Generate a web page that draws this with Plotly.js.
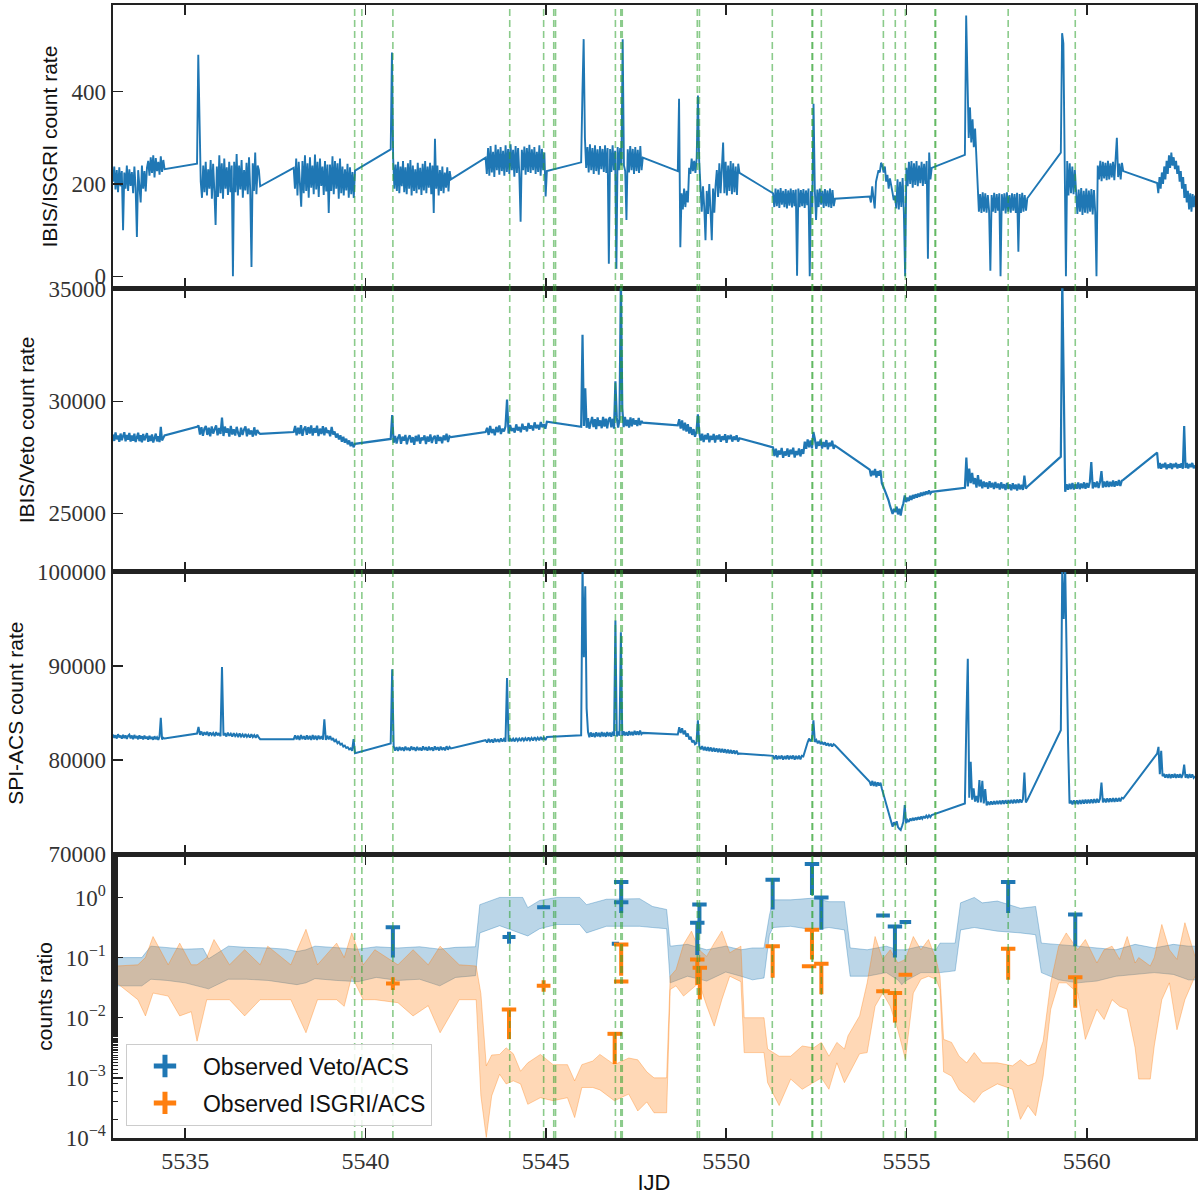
<!DOCTYPE html>
<html>
<head>
<meta charset="utf-8">
<script src="https://cdn.plot.ly/plotly-3.0.1.min.js"></script>
<style>
body{margin:0;background:#fff}
#plot{width:1200px;height:1195px}
</style>
</head>
<body>
<div id="plot"></div>
<script>
// pointing segments (orbit blocks), IJD
const segStart = [5533.00, 5535.33, 5538.01, 5540.70, 5543.33, 5545.98, 5548.66, 5551.30, 5553.98, 5556.62, 5559.28, 5561.95];
const segEnd   = [5534.43, 5537.08, 5539.71, 5542.37, 5545.03, 5547.69, 5550.37, 5553.02, 5555.70, 5558.35, 5561.01, 5563.00];

// IBIS/ISGRI count rate, one list per segment
const isgriRate = [
  [205,238,188,230,182,236,195,228,100,225,190,240,185,232,196,226,180,238,192,85,230,186,160,240,190,228,184,235,250,218,258,224,262,214,256,228,248,220,260,226,252,232],
  [244,480,300,205,170,240,182,248,175,232,190,252,168,244,185,111,238,172,262,180,245,168,255,190,236,176,248,182,240,0,248,182,265,175,240,188,252,170,230,186,246,178,258,184,20,245,185,268,178,240,230,195],
  [235,190,255,175,248,182,151,250,180,262,185,245,170,258,192,240,178,264,188,248,172,255,196,238,176,250,184,242,137,242,185,260,178,250,190,245,168,255,180,238,175,232,186,244,170,236,178,226,170,229],
  [275,485,255,190,242,185,248,180,238,195,250,182,236,178,245,190,252,175,240,185,232,180,246,188,235,176,244,186,250,180,238,192,246,178,240,137,298,190,240,175,230,185,238,180,225,192,236,184,228,210],
  [257,222,278,218,282,225,270,215,285,230,275,220,280,228,272,218,284,226,276,222,286,230,274,216,282,224,278,220,118,274,230,281,220,278,226,285,224,275,230,280,222,270,226,284,218,276,230,268,173,228],
  [247,395,514,300,235,280,225,286,230,278,222,284,228,275,220,282,232,276,226,284,224,278,27,276,226,284,230,272,16,280,230,278,240,514,240,228,122,275,225,282,230,276,222,280,228,274,224,282,230,257],
  [228,385,63,180,145,190,150,185,160,235,222,255,228,250,224,256,392,250,200,140,195,150,78,185,135,200,142,78,190,138,196,230,172,245,180,250,290,180,248,175,240,185,250,178,245,182,238,176,244,224],
  [180,150,190,152,188,148,191,155,185,150,189,147,186,153,190,149,187,152,188,1,190,150,187,152,189,148,186,154,190,0,185,150,374,188,122,188,150,190,155,185,148,189,152,186,150,190,148,187,152,168],
  [173,160,195,170,147,205,215,230,225,246,240,225,238,205,220,190,212,200,182,165,175,147,210,145,205,150,213,140,0,235,195,248,200,250,192,245,198,250,195,240,202,248,196,244,200,250,38,268,210,235],
  [263,565,420,300,366,290,340,280,320,260,191,140,178,137,182,140,180,138,176,142,12,176,140,181,137,178,142,180,0,178,142,180,136,182,140,176,138,180,142,178,137,181,53,178,137,181,140,176,142,169],
  [268,527,505,240,0,250,175,245,180,238,178,230,190,135,188,140,191,133,185,138,190,136,186,140,189,134,187,139,0,240,210,250,206,248,212,246,208,250,210,245,214,248,208,244,300,215,244,210,246,228],
  [202,180,215,190,225,200,238,210,250,222,262,235,268,240,258,232,250,222,240,205,228,190,215,170,200,160,185,145,180,140,178,150,175]
];

// IBIS/Veto count rate
const vetoRate = [
  [28520,28230,28610,28300,28480,28190,28560,28260,28450,28620,28210,28500,28280,28590,28200,28470,28240,28550,28180,28430,28600,28220,28490,28170,28540,28260,28410,28580,28190,28460,28230,28520,28160,28400,28560,28210,28440,28180,28860,28250,28380,28480],
  [28860,28920,28520,28840,28460,28780,28900,28500,28820,28440,28880,28560,28760,28920,28480,28810,28540,29270,28450,28870,28600,28790,28430,28900,28520,28750,28470,28860,28580,28410,28820,28500,28740,28880,28440,28780,28520,28700,28420,28840,28480,28720,28600,28550],
  [28630,28900,28480,28820,28540,28940,28460,28760,28880,28500,28850,28560,28920,28470,28800,28600,28910,28450,28780,28540,28890,28480,28830,28590,28700,28440,28860,28520,28650,28380,28560,28300,28480,28200,28420,28150,28330,28080,28250,28000,28180,27950,28100],
  [28320,29390,28150,28450,28120,28380,28520,28100,28420,28240,28500,28080,28360,28480,28160,28400,28060,28460,28220,28510,28110,28390,28260,28480,28090,28430,28200,28520,28140,28370,28460,28100,28500,28230,28410,28130,28480,28260,28550,28180,28440,28400],
  [28630,28820,28500,28900,28580,28760,28480,28860,28620,28920,28540,28780,28650,28880,30080,28560,28940,28680,28800,28600,28970,28700,28850,28620,29000,28740,28880,28660,29030,28780,28920,28700,29060,28800,28950,28740,29080,28840,28980,28780,29090],
  [28860,32970,28900,30580,28820,29250,28780,29120,29300,28850,29200,28760,29280,28900,29150,28800,29310,28870,29230,28790,29180,29290,28840,29220,28780,30900,29260,28830,29190,35500,29700,28850,29300,28900,29180,28830,29280,28880,29240,28960,29150,28900,29260,28940,29120,29050],
  [28930,29200,28780,29150,28700,29050,28650,28980,28560,28850,28500,28760,28420,28650,29420,28600,28250,28550,28180,28500,28300,28570,28170,28460,28280,28540,28160,28480,28300,28520,28190,28440,28270,28530,28150,28470,28310,28500,28200,28430,28280,28480,28200,28350],
  [27940,27560,27880,27500,27800,27620,27920,27480,27760,27580,27900,27520,27840,27640,27930,27490,27780,27600,27890,27540,27860,27650,28200,27880,28300,27950,28250,27900,28630,28320,27880,28200,28010,28300,27890,28180,27960,28270,27860,28150,27990,28240,27880,28020],
  [26950,26650,26900,26700,26980,26600,26880,26680,26920,26340,26150,26050,25900,25750,25580,25350,25150,24970,25200,25050,25300,24950,25200,24900,25250,25450,25800,25500,25700,25550,25780,25600,25820,25660,25850,25700,25880,25740,25920,25780,25950,25820,25980,25850,26020,25880,25960],
  [26140,27490,26200,27000,26350,26800,26300,26570,26150,26700,26200,26500,26120,26420,26180,26380,26100,26430,26150,26360,26080,26400,26130,26330,26060,26380,26110,26300,26040,26350,26090,26290,26030,26340,26080,26280,26020,26320,26070,26270,26040,26680,26100,26190],
  [27530,35500,30580,25960,26300,26050,26320,26080,26350,26060,26300,26100,26370,26080,26330,26120,26380,26100,26350,26140,26400,27290,26110,26380,26160,26420,26130,26390,26880,26150,26420,26180,26440,26170,26410,26200,26460,26190,26430,26230,26480,26220,26450,26490],
  [27710,27000,27250,26990,27200,27050,27260,26970,27180,27030,27240,26980,27210,27060,27250,27000,27190,27040,27230,26990,28900,27020,27240,27000,27200,27060,27250,27010,27150]
];

// SPI-ACS count rate
const acsRate = [
  [82720,82380,82650,82300,82760,82420,82600,82280,82700,82350,82640,82260,82580,82720,82310,82620,82240,82680,82330,82560,82220,82650,82300,82540,82200,82610,82280,82500,82180,82580,82260,82460,82170,82540,82240,82430,82150,82500,84490,82200,82380,82300],
  [82830,83530,82700,83050,82620,82980,82700,83020,82580,82950,82680,82900,82560,82980,82640,82880,82540,89900,82620,82860,82520,82930,82590,82820,82500,82880,82560,82780,82460,82840,82520,82740,82430,82800,82490,82700,82400,82760,82460,82660,82380,82700,82420,82230],
  [82230,82650,82200,82600,82150,82680,82240,82560,82180,82640,82220,82580,82140,82660,82200,82600,82160,82620,82240,82550,82180,84350,82150,82600,82200,82560,82120,82350,81950,82150,81800,81950,81650,81750,81450,81550,81300,81380,81150,81250,81000,82230,80750],
  [81770,89650,81500,81020,81380,80980,81420,81060,81350,80990,81440,81080,81320,81000,81450,81100,81360,80980,81420,81060,81330,81010,81460,81090,81370,81020,81430,81080,81350,81000,81470,81110,81380,81030,81440,81090,81360,81040,81480,81120,81400,81240],
  [82120,81880,82260,81900,82200,81860,82290,81950,82230,81920,82310,81980,82250,81960,88730,82000,82330,82020,82280,81990,82360,82050,82300,82030,82390,82080,82330,82060,82420,82110,82360,82090,82450,82140,82390,82120,82470,82160,82420,82150,82470],
  [82650,100500,90950,98480,85480,83000,82450,82950,82500,82880,82440,82970,82520,82900,82460,82990,82540,82920,82480,83000,82560,82930,82500,83020,82580,94840,82520,83040,82600,93600,82560,83060,82640,82980,82600,83080,82660,83000,82640,83120,82700,83050,82680,83150,82760,82900],
  [82720,83500,82900,83400,82750,83150,82500,82850,82200,82500,81900,82100,81700,81800,84240,81450,81150,81500,81050,81420,81000,81380,80960,81350,80920,81300,80900,81260,80860,81230,80820,81200,80800,81160,80760,81120,80720,81080,80700,81050,80680,81000,80650,80700],
  [80460,80100,80520,80080,80460,80140,80500,80060,80440,80120,80520,80080,80470,80150,80500,80060,80450,80120,80490,80080,80460,80400,80900,81500,81900,82300,82000,82250,84240,81950,82150,81800,82050,81700,81950,81650,81900,81550,81800,81500,81750,81450,81700,81590],
  [77700,77300,77800,77250,77700,77200,77650,77300,77600,77000,76500,76100,75580,75000,74500,74000,73500,72930,73400,73100,73500,72900,72700,72580,73000,73460,75230,73300,73640,73450,73800,73550,73850,73600,73900,73650,73950,73700,74000,73780,74050,73820,74100,73900,74150,73950,74170],
  [75400,84060,90780,76000,79820,75800,77000,75600,76200,75500,77880,75500,77800,75400,76920,75200,75600,75250,75620,75280,75650,75300,75680,75320,75700,75340,75720,75360,75740,75380,75760,75400,75780,75420,75800,75440,75820,75460,75840,75480,75860,78690,75500,75760],
  [83180,100500,95000,100500,88000,81770,75400,75700,75300,75720,75320,75740,75340,75760,75360,75780,75380,75800,75400,75820,75420,75840,75440,75860,75460,75880,75480,75900,77630,75500,75920,75520,75940,75540,75950,75560,75960,75580,75970,75600,75980,75620,75990,75930],
  [80700,81410,78500,81000,78300,78550,78150,78500,78120,78520,78100,78480,78140,78540,78110,78500,78150,78520,78120,78480,79540,78130,78500,78100,78520,78150,78480,78120,78300]
];

// expected Veto/ACS ratio band (log10)
const vetoBandX = [5533.0,5533.8,5534.05,5534.5,5535.0,5535.5,5535.65,5536.2,5536.7,5537.3,5537.8,5538.1,5538.35,5538.6,5539.2,5539.8,5540.3,5540.9,5541.5,5542.06,5542.5,5543.05,5543.17,5543.72,5544.36,5544.5,5544.83,5545.3,5545.94,5546.13,5546.68,5547.6,5547.96,5548.35,5548.45,5548.93,5549.46,5549.99,5550.41,5550.73,5551.05,5551.2,5551.3,5551.79,5552.43,5552.85,5553.28,5553.44,5553.91,5554.44,5554.76,5554.87,5554.97,5555.4,5555.82,5555.93,5556.35,5556.5,5556.88,5557.1,5557.52,5558.16,5558.58,5558.74,5559.22,5559.75,5560.28,5560.81,5561.34,5561.87,5562.4,5562.82,5563.0];
const vetoBandHi = [-1.0,-1.0,-0.81,-0.83,-0.86,-0.85,-1.02,-0.81,-0.83,-0.84,-0.86,-0.9,-0.87,-0.81,-0.83,-0.86,-0.82,-0.84,-0.82,-0.86,-0.83,-0.82,-0.12,0.0,0.0,-0.17,-0.05,0.0,0.0,-0.12,-0.03,-0.02,-0.15,-0.2,-0.81,-0.78,-0.87,-0.81,-0.87,-0.84,-0.84,-0.3,-0.04,-0.04,-0.01,-0.07,-0.07,-0.84,-0.87,-0.81,-0.87,-0.87,-0.87,-0.81,-0.87,-0.76,-0.76,-0.09,0.0,-0.09,-0.06,-0.18,-0.15,-0.76,-0.78,-0.81,-0.84,-0.87,-0.78,-0.84,-0.78,-0.81,-0.81];
const vetoBandLo = [-1.47,-1.47,-1.36,-1.38,-1.42,-1.5,-1.52,-1.36,-1.36,-1.38,-1.42,-1.45,-1.42,-1.35,-1.38,-1.40,-1.33,-1.38,-1.36,-1.47,-1.33,-1.30,-0.59,-0.47,-0.61,-0.64,-0.52,-0.45,-0.45,-0.59,-0.48,-0.48,-0.5,-0.52,-1.42,-1.31,-1.39,-1.24,-1.31,-1.37,-1.34,-0.62,-0.5,-0.48,-0.54,-0.5,-0.54,-1.31,-1.31,-1.25,-1.37,-1.45,-1.39,-1.25,-1.25,-1.25,-1.22,-0.54,-0.5,-0.52,-0.56,-0.59,-0.62,-1.25,-1.37,-1.42,-1.39,-1.31,-1.28,-1.25,-1.28,-1.37,-1.37];

// expected ISGRI/ACS ratio band (log10)
const isgriBandX = [5533.0,5533.1,5533.69,5533.9,5534.11,5534.53,5534.85,5535.17,5535.33,5535.6,5535.8,5536.23,5536.65,5537.08,5537.29,5537.93,5538.35,5538.67,5539.2,5539.41,5539.62,5539.94,5540.26,5540.9,5541.32,5541.74,5542.07,5542.6,5543.07,
  5543.2,5543.35,5543.5,5543.72,5543.9,5544.1,5544.3,5544.5,5544.85,5545.2,5545.6,5545.8,5546.0,5546.3,5546.5,5546.9,5547.3,5547.55,5547.8,5548.0,5548.35,
  5548.45,5548.61,5548.82,5549.04,5549.25,5549.46,5549.67,5549.88,5550.1,5550.41,5550.5,5551.05,5551.15,5551.47,5551.79,5552.11,5552.43,5552.64,5552.85,5553.07,5553.28,5553.38,5553.7,5553.91,
  5554.13,5554.34,5554.55,5554.76,5554.97,5555.19,5555.4,5555.61,5555.82,5555.93,5556.03,5556.25,5556.46,5556.67,5556.88,5557.1,5557.52,5557.94,5558.16,5558.37,5558.58,5558.79,
  5559.0,5559.22,5559.43,5559.75,5559.96,5560.28,5560.48,5560.7,5560.91,5561.12,5561.34,5561.44,5561.76,5561.87,5562.08,5562.29,5562.5,5562.72,5563.0];
const isgriBandHi = [-1.12,-1.14,-1.12,-1.0,-0.65,-1.12,-0.76,-1.12,-1.12,-1.0,-0.70,-1.12,-0.87,-1.12,-0.81,-1.12,-0.53,-1.12,-0.76,-1.0,-0.59,-1.12,-0.87,-1.12,-0.87,-1.12,-0.81,-1.12,-1.14,
  -1.6,-2.8,-2.62,-2.61,-2.5,-2.6,-2.89,-2.75,-2.61,-2.78,-2.78,-3.05,-2.78,-2.72,-2.61,-2.78,-2.67,-2.7,-2.9,-3.0,-3.0,
  -1.31,-1.2,-0.78,-0.56,-0.87,-0.98,-0.76,-0.56,-0.92,-0.81,-2.0,-2.0,-2.52,-2.64,-2.64,-2.47,-2.5,-2.41,-2.64,-2.41,-2.52,-2.3,-1.97,-1.42,
  -0.65,-1.03,-0.87,-1.09,-1.03,-0.65,-0.87,-0.7,-1.03,-1.31,-2.36,-2.41,-2.64,-2.75,-2.58,-2.75,-2.75,-2.8,-2.7,-2.8,-2.75,-2.39,
  -1.42,-0.81,-0.59,-0.87,-0.7,-1.09,-0.87,-0.81,-1.03,-0.65,-1.09,-1.0,-1.14,-1.0,-0.45,-0.87,-1.03,-0.42,-0.98];
const isgriBandLo = [-2.08,-1.42,-1.70,-1.97,-1.59,-1.64,-1.97,-1.9,-2.39,-1.70,-1.70,-1.70,-1.97,-1.70,-1.70,-1.70,-2.25,-1.70,-1.70,-1.81,-1.31,-1.70,-1.70,-1.75,-1.97,-1.8,-2.25,-1.70,-1.70,
  -3.3,-3.99,-3.3,-2.94,-3.1,-3.05,-3.1,-3.44,-3.33,-3.38,-3.33,-3.66,-3.16,-3.16,-3.2,-3.38,-3.27,-3.55,-3.4,-3.58,-3.58,
  -1.53,-1.47,-1.64,-1.53,-1.42,-1.8,-2.14,-1.7,-1.31,-1.4,-2.58,-2.58,-3.08,-3.46,-3.02,-3.19,-3.08,-3.0,-3.19,-2.75,-3.08,-2.97,-2.6,-2.58,
  -1.81,-1.59,-1.81,-2.2,-2.69,-1.59,-1.36,-1.31,-1.36,-1.53,-2.9,-2.97,-3.2,-3.3,-3.41,-3.24,-3.1,-3.19,-3.69,-3.46,-3.63,-2.97,
  -1.86,-1.42,-1.42,-1.59,-2.36,-1.86,-2.03,-1.7,-1.81,-1.86,-2.5,-3.02,-3.02,-2.47,-1.7,-1.42,-2.2,-1.7,-1.31];

// observed ratios: centre, lower end, upper end, half width in days
const vetoObsX  = [5540.76,5543.98,5544.94,5546.93,5547.09,5547.09,5549.26,5549.20,5551.29,5552.38,5552.64,5554.35,5554.68,5554.97,5557.82,5559.68];
const vetoObsY  = [0.32,0.22,0.69,0.17,1.8,0.83,0.76,0.38,1.96,3.6,1.0,0.5,0.33,0.39,1.8,0.52];
const vetoObsLo = [0.10,0.17,0.64,0.17,0.55,0.83,0.25,0.11,0.63,1.1,0.29,0.5,0.10,0.36,0.55,0.155];
const vetoObsHi = [0.32,0.27,0.74,0.17,1.8,0.83,0.76,0.38,1.96,3.6,1.0,0.5,0.33,0.42,1.8,0.52];
const vetoObsDx = [0.2,0.18,0.18,0.1,0.2,0.2,0.2,0.2,0.2,0.2,0.2,0.19,0.2,0.16,0.2,0.2];

const isgriObsX  = [5540.76,5543.98,5544.94,5546.91,5547.09,5547.09,5549.20,5549.27,5551.29,5552.38,5552.30,5552.64,5554.35,5554.68,5554.97,5557.82,5559.68];
const isgriObsY  = [0.037,0.0137,0.034,0.0054,0.165,0.04,0.093,0.068,0.155,0.29,0.072,0.079,0.0275,0.0258,0.052,0.14,0.047];
const isgriObsLo = [0.029,0.0044,0.027,0.0017,0.05,0.04,0.035,0.02,0.046,0.093,0.072,0.0245,0.0275,0.0083,0.052,0.043,0.0147];
const isgriObsHi = [0.047,0.0137,0.042,0.0054,0.165,0.04,0.093,0.068,0.155,0.29,0.072,0.079,0.0275,0.0258,0.052,0.14,0.047];
const isgriObsDx = [0.19,0.2,0.19,0.2,0.2,0.2,0.2,0.2,0.2,0.2,0.2,0.2,0.19,0.2,0.19,0.2,0.2];

// trigger times (green dashed lines)
const triggers = [5539.70,5539.90,5540.76,5544.00,5544.94,5545.22,5545.27,5546.93,5547.08,5547.12,5549.20,5549.26,5551.28,5552.38,5552.40,5552.64,5554.36,5554.69,5554.97,5555.79,5555.81,5557.82,5559.68];

const xTicks = [5535,5540,5545,5550,5555,5560];

const blue = '#1f77b4';
const orange = '#ff7f0e';
const serif = 'Liberation Serif, DejaVu Serif, serif';
const sans = 'Liberation Sans, DejaVu Sans, sans-serif';

function segSeries(rates){
    let x = [], y = [];
    for (let s = 0; s < rates.length; s++){
        let n = rates[s].length;
        for (let i = 0; i < n; i++){
            x.push(segStart[s] + (segEnd[s] - segStart[s]) * i / (n - 1));
            y.push(rates[s][i]);
        }
    }
    return {x: x, y: y};
}

function pow10(arr){
    return arr.map(v => Math.pow(10, v));
}

function lightCurve(rates, xa, ya, w){
    let s = segSeries(rates);
    return {x: s.x, y: s.y, xaxis: xa, yaxis: ya, mode: 'lines',
        line: {color: blue, width: w}, showlegend: false, hoverinfo: 'skip'};
}

function band(xs, lo, hi, rgb){
    return [
        {x: xs, y: pow10(lo), xaxis: 'x4', yaxis: 'y4', mode: 'lines',
         line: {color: 'rgba(' + rgb + ',0.35)', width: 1}, showlegend: false, hoverinfo: 'skip'},
        {x: xs, y: pow10(hi), xaxis: 'x4', yaxis: 'y4', mode: 'lines', fill: 'tonexty',
         fillcolor: 'rgba(' + rgb + ',0.3)',
         line: {color: 'rgba(' + rgb + ',0.35)', width: 1}, showlegend: false, hoverinfo: 'skip'}
    ];
}

function observed(xs, ys, lo, hi, dx, color){
    return {
        x: xs, y: ys, xaxis: 'x4', yaxis: 'y4', mode: 'markers',
        marker: {size: 1, color: 'rgba(0,0,0,0)'},
        error_x: {type: 'data', array: dx, symmetric: true, width: 0, thickness: 4, color: color},
        error_y: {type: 'data', symmetric: false,
                  array: hi.map((h, i) => h - ys[i]),
                  arrayminus: lo.map((l, i) => ys[i] - l),
                  width: 0, thickness: 4, color: color},
        showlegend: false, hoverinfo: 'skip'
    };
}

function legendEntry(name, color, group){
    return {x: [null], y: [null], xaxis: 'x4', yaxis: 'y4', mode: 'markers', name: name,
        legendgroup: group,
        marker: {symbol: 'cross-thin', size: 26, color: color, line: {width: 5, color: color}}};
}

let traces = [
    lightCurve(isgriRate, 'x', 'y', 1.9),
    lightCurve(vetoRate, 'x2', 'y2', 2.2),
    lightCurve(acsRate, 'x3', 'y3', 2.0)
];
traces = traces.concat(band(vetoBandX, vetoBandLo, vetoBandHi, '31,119,180'));
traces = traces.concat(band(isgriBandX, isgriBandLo, isgriBandHi, '255,127,14'));
traces.push(observed(vetoObsX, vetoObsY, vetoObsLo, vetoObsHi, vetoObsDx, blue));
traces.push(observed(isgriObsX, isgriObsY, isgriObsLo, isgriObsHi, isgriObsDx, orange));
traces.push(legendEntry('Observed Veto/ACS', blue, 'a'));
traces.push(legendEntry('Observed ISGRI/ACS', orange, 'b'));

function xAxis(anchor, labels){
    let ax = {
        anchor: anchor, range: [5533, 5563], tickvals: xTicks,
        showline: true, linecolor: '#222', linewidth: 2.5, mirror: 'allticks',
        ticks: 'inside', ticklen: 10, tickwidth: 1.5, tickcolor: '#222',
        showgrid: false, zeroline: false, showticklabels: labels,
        tickfont: {family: serif, size: 24, color: '#333'}
    };
    if (labels) ax.title = {text: 'IJD', font: {family: sans, size: 22, color: '#111'}, standoff: 4};
    return ax;
}

function yAxis(anchor, domain, range, ticks, title){
    return {
        anchor: anchor, domain: domain, range: range, tickvals: ticks, tickformat: 'd',
        showline: true, linecolor: '#222', linewidth: 2.5, mirror: true,
        ticks: 'inside', ticklen: 10, tickwidth: 1.5, tickcolor: '#222',
        showgrid: false, zeroline: false,
        tickfont: {family: serif, size: 23, color: '#333'},
        title: {text: title, font: {family: sans, size: 21, color: '#111'}, standoff: 8}
    };
}

let shapes = triggers.map(t => ({
    type: 'line', xref: 'x', yref: 'paper', x0: t, x1: t, y0: 0, y1: 1, layer: 'above',
    line: {color: 'rgba(44,160,44,0.55)', width: 1.6, dash: '7px,4px'}
}));

let ratioAxis = yAxis('x4', [0, 0.25], [-4, 0.71], [1e-4, 1e-3, 1e-2, 1e-1, 1], 'counts ratio');
ratioAxis.type = 'log';
delete ratioAxis.tickformat;
ratioAxis.ticktext = ['10<sup>−4</sup>', '10<sup>−3</sup>', '10<sup>−2</sup>', '10<sup>−1</sup>', '10<sup>0</sup>'];
ratioAxis.minor = {ticks: 'inside', ticklen: 5, tickwidth: 1, tickcolor: '#222', showgrid: false};

let layout = {
    width: 1200, height: 1195,
    margin: {l: 113, r: 5, t: 5, b: 57},
    paper_bgcolor: '#fff', plot_bgcolor: '#fff',
    showlegend: true,
    legend: {x: 0.012, y: 0.011, xanchor: 'left', yanchor: 'bottom',
             traceorder: 'grouped', tracegroupgap: 4, itemwidth: 66,
             bgcolor: 'rgba(255,255,255,0.85)', bordercolor: '#ccc', borderwidth: 1,
             font: {family: sans, size: 23, color: '#111'}},
    xaxis: xAxis('y', false),
    xaxis2: xAxis('y2', false),
    xaxis3: xAxis('y3', false),
    xaxis4: xAxis('y4', true),
    yaxis: yAxis('x', [0.75, 1], [-26, 588], [0, 200, 400], 'IBIS/ISGRI count rate'),
    yaxis2: yAxis('x2', [0.5, 0.75], [22400, 35050], [25000, 30000, 35000], 'IBIS/Veto count rate'),
    yaxis3: yAxis('x3', [0.25, 0.5], [69950, 100050], [70000, 80000, 90000, 100000], 'SPI-ACS count rate'),
    yaxis4: ratioAxis,
    shapes: shapes
};

Plotly.newPlot('plot', traces, layout, {staticPlot: true});
</script>
</body>
</html>
